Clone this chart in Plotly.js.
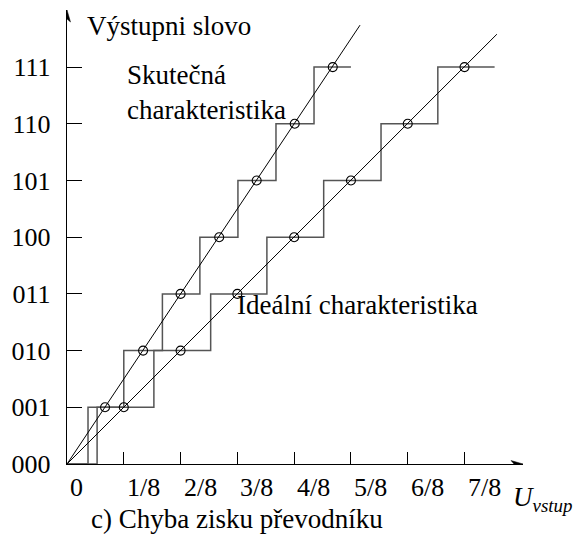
<!DOCTYPE html>
<html><head><meta charset="utf-8">
<script src="https://cdn.plot.ly/plotly-3.0.1.min.js"></script>
<style>html,body{margin:0;padding:0;background:#fff}</style>
</head><body><div id="chart" style="width:584px;height:537px"></div>
<script>
// Output codes (y) and their labels
const codeValues = [0, 1, 2, 3, 4, 5, 6, 7];
const codeLabels = ['000', '001', '010', '011', '100', '101', '110', '111'];
// Input voltage ticks (x, in LSB units of the ideal converter)
const xTickValues = [0, 1, 2, 3, 4, 5, 6, 7];
const xTickLabels = ['0', '1/8', '2/8', '3/8', '4/8', '5/8', '6/8', '7/8'];
// Ideal characteristic: staircase transitions and code centres
const idealStepX = [0, 0.53, 1.53, 2.53, 3.52, 4.52, 5.53, 6.53, 7.53];
const idealStepY = [0, 1, 2, 3, 4, 5, 6, 7, 7];
const idealPointX = [1, 2, 3, 4, 5, 6, 7];
const idealPointY = [1, 2, 3, 4, 5, 6, 7];
const idealLineX = [0, 7.57];
const idealLineY = [0, 7.58];
// Real characteristic (gain error)
const realStepX = [0, 0.37, 1.0, 1.68, 2.34, 3.01, 3.68, 4.35, 5.0];
const realStepY = [0, 1, 2, 3, 4, 5, 6, 7, 7];
const realPointX = [0.67, 1.34, 2.0, 2.68, 3.34, 4.01, 4.68];
const realPointY = [1, 2, 3, 4, 5, 6, 7];
const realLineX = [0, 5.16];
const realLineY = [0, 7.74];

const FONT = 'Liberation Serif';
const FS = 26;
const FT = 27;
const stairStyle = {color: '#555555', width: 1.5, shape: 'hv'};
const lineStyle = {color: '#000000', width: 1};
const circ = {symbol: 'circle-open', size: 9, color: '#000', line: {width: 1.1, color: '#000'}};

const traces = [
  {x: idealStepX, y: idealStepY, mode: 'lines', line: stairStyle, cliponaxis: false},
  {x: realStepX, y: realStepY, mode: 'lines', line: stairStyle, cliponaxis: false},
  {x: idealLineX, y: idealLineY, mode: 'lines', line: lineStyle, cliponaxis: false},
  {x: realLineX, y: realLineY, mode: 'lines', line: lineStyle, cliponaxis: false},
  {x: idealPointX, y: idealPointY, mode: 'markers', marker: circ, cliponaxis: false},
  {x: realPointX, y: realPointY, mode: 'markers', marker: circ, cliponaxis: false}
];

const annotations = [];
xTickValues.forEach((v, i) => {
  annotations.push({x: v, y: 0, xref: 'x', yref: 'y', text: xTickLabels[i], showarrow: false,
    xanchor: 'left', yanchor: 'middle', xshift: 1, yshift: -23,
    font: {family: FONT, size: FS, color: '#000'}});
});
annotations.push(
  {x: 0.32, y: 7.72, xref: 'x', yref: 'y', text: 'Výstupni slovo', showarrow: false,
   xanchor: 'left', yanchor: 'middle', font: {family: FONT, size: FT, color: '#000'}},
  {x: 1.02, y: 6.56, xref: 'x', yref: 'y', text: 'Skutečná<br>charakteristika', showarrow: false,
   xanchor: 'left', yanchor: 'middle', align: 'left', font: {family: FONT, size: FT, color: '#000'}},
  {x: 2.96, y: 2.80, xref: 'x', yref: 'y', text: 'Ideální charakteristika', showarrow: false,
   xanchor: 'left', yanchor: 'middle', font: {family: FONT, size: FT, color: '#000'}},
  {x: 7.81, y: 0, xref: 'x', yref: 'y', text: '<i>U</i><sub><i>vstup</i></sub>', showarrow: false,
   xanchor: 'left', yanchor: 'middle', yshift: -35, font: {family: FONT, size: FT, color: '#000'}},
  {x: 0.38, y: 0, xref: 'x', yref: 'y', text: 'c) Chyba zisku převodníku', showarrow: false,
   xanchor: 'left', yanchor: 'middle', yshift: -55, font: {family: FONT, size: FT, color: '#000'}}
);

const layout = {
  width: 584, height: 537,
  margin: {l: 67, r: 61, t: 10, b: 73},
  paper_bgcolor: '#fff', plot_bgcolor: '#fff',
  showlegend: false,
  font: {family: FONT, size: FS, color: '#000'},
  xaxis: {range: [0, 8.03], showgrid: false, zeroline: false, showline: true, linewidth: 1.3, linecolor: '#000',
          tickvals: xTickValues.slice(1), ticks: 'inside', ticklen: 12, tickwidth: 1.1, tickcolor: '#000',
          showticklabels: false, fixedrange: true},
  yaxis: {range: [0, 8.007], showgrid: false, zeroline: false, showline: true, linewidth: 1.3, linecolor: '#000',
          tickvals: codeValues, ticktext: codeLabels, ticks: 'inside', ticklen: 15, tickwidth: 1.1, tickcolor: '#000',
          ticklabelstandoff: 10, tickfont: {family: FONT, size: FS, color: '#000'}, fixedrange: true},
  annotations: annotations,
  shapes: [
    {type: 'path', xref: 'x', yref: 'y', xsizemode: 'pixel', ysizemode: 'pixel', xanchor: 8.03, yanchor: 0,
     path: 'M0,0 L-12,3.5 L-9,0 L-12,-3.5 Z', fillcolor: '#000', line: {width: 0.5, color: '#000'}},
    {type: 'path', xref: 'x', yref: 'y', xsizemode: 'pixel', ysizemode: 'pixel', xanchor: 0, yanchor: 8.007,
     path: 'M0,0 L-3.5,-12 L0,-9 L3.5,-12 Z', fillcolor: '#000', line: {width: 0.5, color: '#000'}}
  ]
};

Plotly.newPlot('chart', traces, layout, {displayModeBar: false, staticPlot: true});
</script></body></html>
